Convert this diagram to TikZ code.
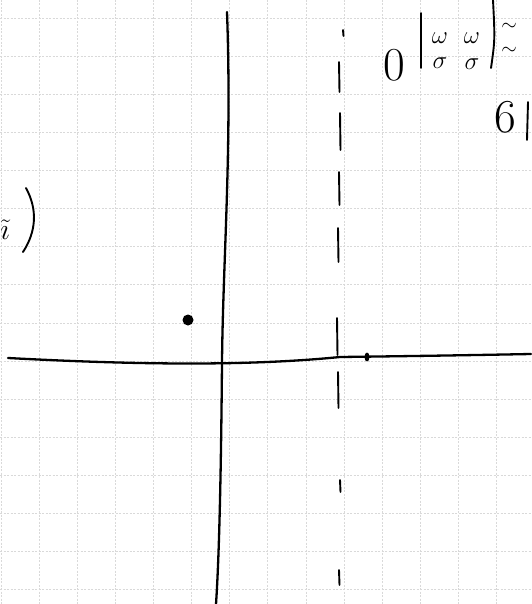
\documentclass[tikz,border=0pt]{standalone}
\usepackage{amsmath}
\usepackage{amssymb}
\usepackage{tikz}
\usetikzlibrary{positioning,shapes.geometric}

\begin{document}
\begin{tikzpicture}[x=1pt,y=-1pt,
                    gridline/.style={black!15,dash pattern=on 2pt off 1.5pt,line width=0.6pt},
                    axis/.style={line width=2.3pt,line cap=round},
                    hand/.style={line width=1.9pt,line cap=round},
                    big/.style={inner sep=0pt,font=\Huge,scale=1.9},
                    small/.style={inner sep=0pt,font=\Huge,scale=1.0},
                    wave/.style={inner sep=0pt,font=\Huge,scale=0.8}]
  \useasboundingbox (0,0) rectangle (531,604);
  \fill[white] (0,0) rectangle (531,604);
  % paper grid
  \foreach \i in {0,...,13}
    \draw[gridline] (1+38.1*\i,0) -- (1+38.1*\i,604);
  \foreach \j in {0,...,15}
    \draw[gridline] (0,18+38.1*\j) -- (531,18+38.1*\j);
  % axes
  \coordinate (xl) at (8,358);
  \coordinate (xm) at (340,357);
  \coordinate (xr) at (531,354);
  \coordinate (yt) at (227,12);
  \coordinate (o)  at (222,362);
  \coordinate (yb) at (216,604);
  \draw[axis] (xl) .. controls (140,365) and (250,366) .. (xm)
                   .. controls (420,356) and (480,355) .. (xr);
  \draw[axis] (yt) .. controls (232,150) and (223,260) .. (o)
                   .. controls (221,480) and (219,560) .. (yb);
  % dashed line
  \foreach \a/\b/\x in {30/36/343,62/92/339,113/150/340,172/205/339,
                        228/262/338,318/355/337,372/408/338,480/492/340,570/585/339}
    \draw[hand] (\x,\a) -- (\x+0.5,\b);
  % point and tick
  \node[circle,fill,inner sep=0pt,minimum size=11pt] (p) at (188,320) {};
  \node[ellipse,fill,inner sep=0pt,minimum width=5pt,minimum height=9pt] (t) at (367,357) {};
  % top right
  \node[big] (zero) at (394,65) {$0$};
  \coordinate (b1t) at (421,13);
  \coordinate (b1b) at (421,68);
  \draw[hand] (b1t) -- (b1b);
  \node[small] (w1) at (440,38) {$\omega$};
  \node[small] (s1) at (440,63) {$\sigma$};
  \node[small] (w2) at (472,38) {$\omega$};
  \node[small] (s2) at (472,64) {$\sigma$};
  \coordinate (b2t) at (493,0);
  \coordinate (b2b) at (491,68);
  \draw[hand] (b2t) .. controls (495,40) .. (b2b);
  \node[wave] (n1) at (509,27) {$\sim$};
  \node[wave] (n2) at (509,51) {$\sim$};
  \node[big] (six) at (505,117) {$6$};
  \coordinate (b3t) at (528,102);
  \coordinate (b3b) at (527,140);
  \draw[hand] (b3t) -- (b3b);
  % left edge
  \node[small,scale=1.2] (lt) at (5,230) {$\tilde\imath$};
  \coordinate (pt) at (26,188);
  \coordinate (pb) at (23,252);
  \draw[hand] (pt) .. controls (38,210) and (36,232) .. (pb);
\end{tikzpicture}
\end{document}
